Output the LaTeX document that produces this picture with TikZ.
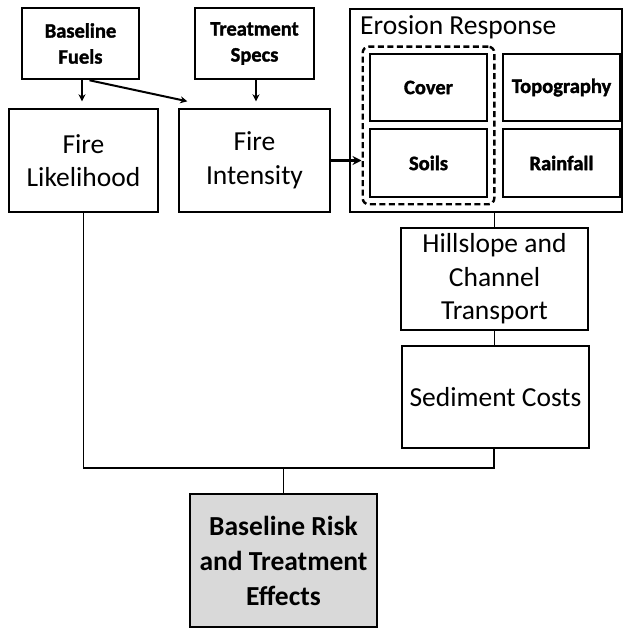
\documentclass[tikz,border=0pt]{standalone}
\usepackage{fontspec}
\setmainfont{Carlito}
\newfontfamily\heavyfont[FakeBold=1.6]{Carlito Bold}
\usetikzlibrary{positioning,fit,arrows.meta}
\definecolor{resultgray}{RGB}{217,217,217}

\begin{document}
\begin{tikzpicture}[x=1pt,y=-1pt,inner sep=0pt,
	box/.style={draw,line width=1.4pt,align=center,font=\fontsize{27.5}{33.5}\selectfont},
	input/.style={draw,line width=2.6pt,align=center,font=\fontsize{20.5}{26}\heavyfont},
	factor/.style={input,minimum width=117pt,minimum height=67pt},
	link/.style={line width=1.4pt},
	feed/.style={line width=2pt,-{Stealth[length=7pt,width=7pt]}}]
	\useasboundingbox (0,0) rectangle (623,628);

	% inputs
	\node[input,minimum width=117pt,minimum height=71pt] (fuels) at (80.5,43.5) {Baseline\\Fuels};
	\node[input,minimum width=119pt,minimum height=71pt] (specs) at (254.5,43.5) {Treatment\\Specs};

	% fire
	\node[box,minimum width=149pt,minimum height=103pt] (likelihood) at (83.5,160.5) {Fire\\Likelihood};
	\node[box,minimum width=151pt,minimum height=103pt] (intensity) at (254.5,160.5) {Fire\\Intensity};

	% erosion response
	\node[box,minimum width=272pt,minimum height=203pt] (erosion) at (486,110.5) {};
	\node[font=\fontsize{27.5}{33.5}\selectfont,anchor=north west] (erosiontitle) at (360,15) {Erosion Response};
	\node[factor] (cover) at (428.5,87.5) {Cover};
	\node[factor,minimum height=68pt] (soils) at (428.5,163) {Soils};
	\node[factor] (topo) at (561.5,87.5) {Topography};
	\node[factor,minimum height=68pt] (rain) at (561.5,163) {Rainfall};
	\node[draw,line width=2.4pt,dash pattern=on 6pt off 3.5pt,rounded corners=6pt,inner sep=6pt,fit=(cover)(soils)] (group) {};

	% transport and costs
	\node[box,minimum width=187pt,minimum height=102pt] (hillslope) at (494.5,279) {Hillslope and\\Channel\\Transport};
	\node[box,minimum width=187pt,minimum height=102pt] (sediment) at (495.5,397) {Sediment Costs};
	\node[box,fill=resultgray,minimum width=187pt,minimum height=133pt,font=\fontsize{27.5}{35}\selectfont\bfseries] (result) at (283.5,560.5) {Baseline Risk\\and Treatment\\Effects};
	\coordinate (join) at (283.5,468);

	\draw[feed,line width=2.6pt,shorten >=7pt] ([xshift=1.5pt]fuels.south) -- ([xshift=-1.5pt]likelihood.north);
	\draw[feed] ([xshift=9pt]fuels.south) -- ([xshift=9pt,yshift=7pt]intensity.north west);
	\draw[feed,line width=2.6pt,shorten >=7pt] ([xshift=1.5pt]specs.south) -- ([xshift=1.5pt]intensity.north);
	\draw[line width=2.8pt,-{Stealth[length=9pt,width=9pt]}] (intensity.east) -- (intensity.east -| group.west);

	\draw[link] (hillslope.north) -- (hillslope.north |- erosion.south);
	\draw[link] (hillslope.south) -- (hillslope.south |- sediment.north);
	\draw[link] (likelihood.south) |- ([xshift=-1.5pt]sediment.south |- join) -- ([xshift=-1.5pt]sediment.south);
	\draw[link] (result.north) -- (join);

\end{tikzpicture}
\end{document}
